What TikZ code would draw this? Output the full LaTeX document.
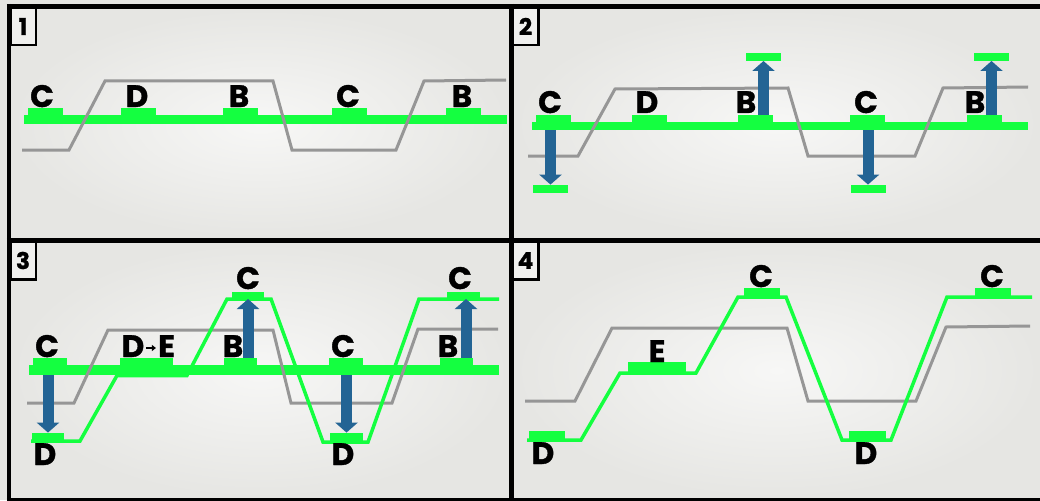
\documentclass[tikz,border=0pt]{standalone}
\usepackage{fontspec}
\setmainfont{Poppins}[BoldFeatures={FakeBold=1.2}]
\usetikzlibrary{arrows.meta}
\definecolor{padgreen}{RGB}{20,255,64}
\definecolor{wire}{RGB}{150,150,150}
\definecolor{shiftblue}{RGB}{35,100,148}
\definecolor{paper}{RGB}{228,228,225}
\definecolor{panelmid}{RGB}{247,247,246}
\definecolor{panelrim}{RGB}{230,230,227}
\begin{document}
\begin{tikzpicture}[x=1pt,y=-1pt,
  barbox/.style={fill=padgreen, inner sep=0, anchor=north west},
  pad/.style={fill=padgreen, inner sep=0, minimum height=7pt, minimum width=35pt, anchor=south},
  lab/.style={font=\bfseries\fontsize{31}{31}\selectfont, inner sep=0, anchor=base},
  num/.style={draw, line width=2.5pt, fill=panelmid!60!panelrim, font=\bfseries\fontsize{23}{23}\selectfont,
              minimum width=25.5pt, minimum height=37.5pt, anchor=north west, inner sep=0},
  oldpath/.style={draw=wire, line width=3pt},
  newpath/.style={draw=padgreen, line width=3.5pt},
  move/.style={draw=shiftblue, line width=11pt, -{Triangle[width=22pt,length=10pt]}},
  frame/.style={line width=5pt, black},
]
\useasboundingbox (0,0) rectangle (1040,500);
\fill[paper] (0,0) rectangle (1040,500);

% panel backgrounds
\shade[inner color=panelmid, outer color=panelrim] (11,9) rectangle (510,238);
\shade[inner color=panelmid, outer color=panelrim] (514,9) rectangle (1040,238);
\shade[inner color=panelmid, outer color=panelrim] (11,243) rectangle (510,498);
\shade[inner color=panelmid, outer color=panelrim] (514,243) rectangle (1040,498);

% frame grid
\draw[frame, line width=4.5pt] (9,4) -- (9,500);
\draw[frame] (6.75,6.5) -- (1040,6.5);
\draw[frame] (511.5,4) -- (511.5,500);
\draw[frame] (6.75,240.5) -- (1040,240.5);
\draw[frame, line width=3pt] (6.75,499.5) -- (1040,499.5);

% panel numbers
\node[num] (n1) at (9,6.5) {1};
\node[num] (n2) at (511.5,6.5) {2};
\node[num] (n3) at (9,240.5) {3};
\node[num] (n4) at (511.5,240.5) {4};

% ---------------- panel 1 ----------------
\node[barbox, minimum width=483pt, minimum height=9pt] (bar1) at (24,115) {};
\draw[oldpath] (22,150) -- (69,150) -- (105,81) -- (273,81) -- (292,150) -- (396,150) -- (424,81) -- (506,80);
\node[pad] (p1c1) at (45,115) {};
\node[pad] (p1d)  at (138.5,115) {};
\node[pad] (p1b1) at (240.5,115) {};
\node[pad] (p1c2) at (349.5,115) {};
\node[pad] (p1b2) at (463,115) {};
\node[lab] (l1c1) at (42,107) {C};
\node[lab] (l1d)  at (137,107) {D};
\node[lab] (l1b1) at (239,107) {B};
\node[lab] (l1c2) at (348,107) {C};
\node[lab] (l1b2) at (462,107) {B};

% ---------------- panel 2 ----------------
\node[barbox, minimum width=496pt, minimum height=8pt] (bar2) at (532,122) {};
\draw[oldpath] (528,156) -- (578,156) -- (615,89) -- (788,88) -- (808,156) -- (915,156) -- (943,88) -- (1028,87);
\node[pad] (p2c1) at (553,122) {};
\node[pad] (p2d)  at (649,122) {};
\node[pad] (p2b1) at (755,122) {};
\node[pad] (p2c2) at (867,122) {};
\node[pad] (p2b2) at (984.5,122) {};
\node[pad, minimum height=8pt] (p2c1d) at (550.5,193) {};
\node[pad, minimum height=8pt] (p2c2d) at (868,193) {};
\node[pad, minimum height=8pt] (p2b1u) at (763.5,61) {};
\node[pad, minimum height=8pt] (p2b2u) at (991.5,61) {};
\draw[move] (p2c1d.north |- bar2.south) -- (p2c1d.north);
\draw[move] (p2c2d.north |- bar2.south) -- (p2c2d.north);
\draw[move] (p2b1u.south |- p2b1.north) -- (p2b1u.south);
\draw[move] (p2b2u.south |- p2b2.north) -- (p2b2u.south);
\node[lab] (l2c1) at (550,113) {C};
\node[lab] (l2d)  at (647,113) {D};
\node[lab] (l2b1) at (746,113) {B};
\node[lab] (l2c2) at (866,113) {C};
\node[lab] (l2b2) at (975,113) {B};

% ---------------- panel 3 ----------------
\node[barbox, minimum width=470pt, minimum height=10pt] (bar3) at (29,365) {};
\draw[oldpath] (27,403) -- (74,403) -- (108,330) -- (273,330) -- (291,403) -- (392,403) -- (418,329) -- (498,329);
\draw[newpath] (31,441) -- (80,441) -- (117,375.5) -- (187,375.5) -- (227,299) -- (271,299) -- (323,442) -- (368,442) -- (419,299) -- (499,299);
\node[pad, minimum width=34pt] (p3c1) at (50,365) {};
\node[pad, minimum width=53pt] (p3de) at (146.5,365) {};
\node[pad, minimum width=33pt] (p3b1) at (240.5,365) {};
\node[pad, minimum width=34pt] (p3c2) at (346,365) {};
\node[pad, minimum width=33pt] (p3b2) at (456.5,365) {};
\node[pad, minimum width=32pt, minimum height=8pt] (p3d1) at (48,441) {};
\node[pad, minimum width=33pt, minimum height=8pt] (p3d2) at (346.5,441) {};
\node[pad, minimum width=32pt] (p3c3) at (248,299) {};
\node[pad, minimum width=33pt] (p3c4) at (463.5,299) {};
\draw[move] (p3d1.north |- bar3.south) -- (p3d1.north);
\draw[move] (p3d2.north |- bar3.south) -- (p3d2.north);
\draw[move] (p3c3.south |- p3b1.north) -- (p3c3.south);
\draw[move] ([xshift=2.5pt]p3c4.south |- p3b2.north) -- ([xshift=2.5pt]p3c4.south);
\node[lab] (l3c1) at (47,357) {C};
\node[lab] (l3d0) at (133,357) {D};
\node[lab] (l3e0) at (166.5,357) {E};
\draw[line width=2pt, -{Triangle[width=6pt,length=4pt]}, shorten <=1.5pt, shorten >=2pt]
  ([yshift=9pt]l3d0.base east) -- ([yshift=9pt]l3e0.base west);
\node[lab] (l3b1) at (233,357) {B};
\node[lab] (l3c2) at (343,357) {C};
\node[lab] (l3b2) at (448,357) {B};
\node[lab] (l3d1) at (45,465) {D};
\node[lab] (l3d2) at (343,465) {D};
\node[lab] (l3c3) at (248,289) {C};
\node[lab] (l3c4) at (460,289) {C};

% ---------------- panel 4 ----------------
\draw[oldpath] (525,401) -- (575,401) -- (612,328) -- (787,328) -- (808,401) -- (916,401) -- (946,327) -- (1030,326);
\draw[newpath] (527,440) -- (581,440) -- (620,373) -- (696,373) -- (738,297) -- (786,297) -- (842,440) -- (891,440) -- (947,297) -- (1032,297);
\node[pad, minimum width=36pt, minimum height=9pt] (p4d1) at (547,440) {};
\node[pad, minimum width=58pt, minimum height=11pt] (p4e) at (657,373) {};
\node[pad, minimum width=36pt, minimum height=9pt] (p4c1) at (762,297) {};
\node[pad, minimum width=37pt, minimum height=9pt] (p4d2) at (867.5,440) {};
\node[pad, minimum width=36pt, minimum height=9pt] (p4c2) at (993,297) {};
\node[lab] (l4d1) at (543,464) {D};
\node[lab] (l4e)  at (657,362) {E};
\node[lab] (l4c1) at (761,287) {C};
\node[lab] (l4d2) at (866,464) {D};
\node[lab] (l4c2) at (992,287) {C};
\end{tikzpicture}
\end{document}
